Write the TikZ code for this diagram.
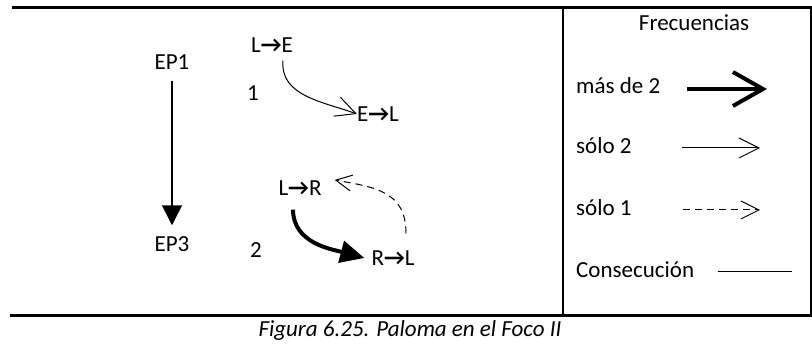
\documentclass[tikz,border=0pt]{standalone}
\usepackage{fontspec}
\setmainfont{Carlito}
\usetikzlibrary{arrows.meta}
\newcommand{\fle}{\textbf{→}}

\begin{document}
\begin{tikzpicture}[x=1pt, y=1pt, font=\fontsize{23}{28}\selectfont]
            % Styles
            \tikzset{
                rotulo/.style={inner sep=0pt},
                etapa/.style={inner sep=11pt},
                consec/.style={line width=1.5pt},
                frecmas/.style={line width=4pt},
                frecdos/.style={line width=1pt},
                frecuno/.style={line width=1pt, dash pattern=on 7pt off 5pt},
                barb/.style={-{Straight Barb[length=#1, width=#1]}},
            }
            \useasboundingbox (0,0) rectangle (812,-344);

            % Frame
            \draw[line width=2.2pt] (12,-7.5) -- (812,-7.5);
            \draw[line width=2.2pt] (10,-315.5) -- (812,-315.5);
            \draw[line width=1.6pt] (563,-7.5) -- (563,-315.5);
            \draw[line width=1.6pt] (811,-7.5) -- (811,-315.5);

            % Stages
            \node[etapa] (ep1) at (172,-62) {EP1};
            \node[etapa] (ep3) at (172,-244) {EP3};
            \draw[consec, -{Triangle[length=20pt, width=20pt]}] (ep1) -- (ep3);

            % Focus 1
            \node[rotulo] (uno) at (253,-93) {1};
            \node[rotulo] (le) at (272,-45) {L\fle E};
            \node[rotulo] (el) at (378,-114) {E\fle L};
            \draw[frecdos, barb=20pt] ([shift={(11pt,-8pt)}]le.south) to[out=-95, in=160] (el.west);

            % Focus 2
            \node[rotulo] (dos) at (256,-250) {2};
            \node[rotulo] (lr) at (300,-188) {L\fle R};
            \node[rotulo] (rl) at (393,-258) {R\fle L};
            \draw[frecmas, -{Triangle[length=24pt, width=22pt]}] ([shift={(-7pt,-14pt)}]lr.south) to[out=-90, in=165] ([xshift=-7pt]rl.west);
            \draw[frecuno, barb=16pt] ([shift={(13pt,17pt)}]rl.north) to[out=90, in=-10, looseness=1.2] ([shift={(13pt,8pt)}]lr.east);

            % Legend
            \node[anchor=base] (frec) at (694,-31) {Frecuencias};
            \node[rotulo, anchor=base west] (mas) at (576,-94) {más de 2};
            \node[rotulo, anchor=base west] (sdos) at (576,-153.5) {sólo 2};
            \node[rotulo, anchor=base west] (suno) at (576,-215.5) {sólo 1};
            \node[rotulo, anchor=base west] (cons) at (576,-277.5) {Consecución};
            \draw[frecmas, -{Straight Barb[length=30pt, width=34pt]}] (687,-89) -- (767,-89);
            \draw[frecdos, barb=20pt] (682,-148) -- (760,-148);
            \draw[frecuno, barb=18pt] (683,-210) -- (760,-210);
            \draw[frecdos] (718,-272) -- (792,-272);

            % Caption
            \node[anchor=base, font=\fontsize{23}{28}\selectfont\itshape] (pie) at (410,-337) {Figura 6.25. Paloma en el Foco II};

        \end{tikzpicture}
\end{document}
